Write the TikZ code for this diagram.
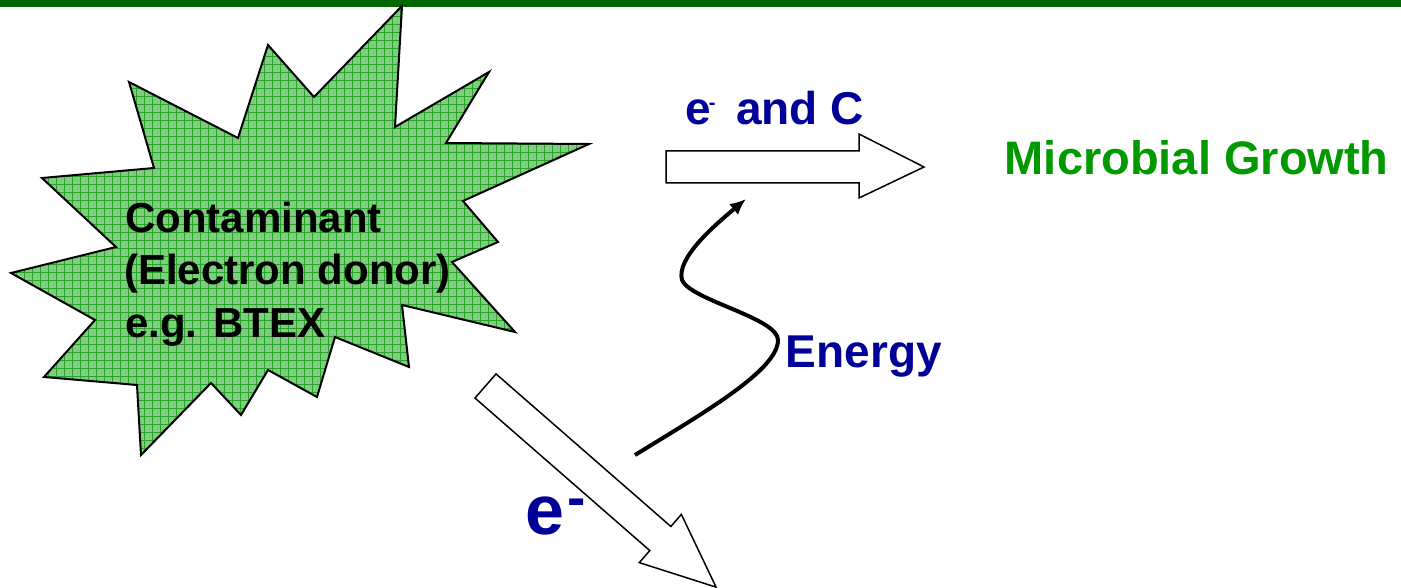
\documentclass[tikz,border=0pt]{standalone}
\usepackage{fontspec}
\setmainfont{Liberation Sans}
\usetikzlibrary{arrows.meta}
\definecolor{bargreen}{RGB}{0,102,0}
\definecolor{txtblue}{RGB}{0,0,153}
\definecolor{txtgreen}{RGB}{0,153,0}
\definecolor{burstfill}{RGB}{128,204,128}
\definecolor{burstgrid}{RGB}{40,165,40}
\newcommand\burstpath{(402,6) -- (395,127) -- (489,72) -- (446,143) -- (589,144)
  -- (463,201) -- (498,242) -- (452,262) -- (515,332) -- (402,305) -- (409,367)
  -- (335,337) -- (317,397) -- (268,370) -- (241,415) -- (211,383) -- (141,455)
  -- (137,385) -- (44,377) -- (95,320) -- (11,273) -- (116,247) -- (42,178)
  -- (154,168) -- (129,82) -- (238,138) -- (268,45) -- (314,97) -- cycle}
\tikzset{
  blockarrow/.style={draw=black,line width=1.5pt,fill=white,line join=miter},
  lbl/.style={anchor=base west,inner sep=0pt,font=\bfseries}
}
\begin{document}
\begin{tikzpicture}[x=1pt,y=-1pt]
  \useasboundingbox (0,0) rectangle (1401,588);
  \fill[bargreen] (0,0) rectangle (1401,7);
  \begin{scope}
    \clip \burstpath;
    \fill[burstfill] (0,0) rectangle (600,470);
    \draw[burstgrid,line width=0.8pt] (0,0) grid[step=8pt] (600,470);
  \end{scope}
  \draw[line width=2pt,line join=miter] \burstpath;
  \node[lbl,font=\bfseries\fontsize{42}{50}\selectfont] (donor1) at (125,233) {Contaminant};
  \node[lbl,font=\bfseries\fontsize{42}{50}\selectfont] (donor2) at (124,285) {(Electron donor)};
  \node[lbl,font=\bfseries\fontsize{42}{50}\selectfont] (donor3) at (125,337) {e.g. BTEX};
  \draw[blockarrow] (666,151) -- (859,151) -- (859,134) -- (924,167) -- (859,198)
    -- (859,183) -- (666,183) -- cycle;
  \draw[blockarrow,shift={(485.5,386)},rotate=-41.1] (0,-16) -- (232,-16) -- (232,-32)
    -- (306,0) -- (232,32) -- (232,16) -- (0,16) -- cycle;
  \node[lbl,txtblue,font=\bfseries\fontsize{46}{50}\selectfont] (eandc) at (685,125)
    {e\kern-2pt\raisebox{15.4pt}{\fontsize{20}{20}\selectfont -}\kern8pt\ and C};
  \node[lbl,txtgreen,font=\bfseries\fontsize{47}{50}\selectfont] (growth) at (1004.6,175) {Microbial Growth};
  \node[lbl,txtblue,font=\bfseries\fontsize{46}{50}\selectfont] (energy) at (785.6,367) {Energy};
  \node[lbl,txtblue,font=\bfseries\fontsize{70}{70}\selectfont] (elec) at (525,534)
    {e\kern3pt\raisebox{17.6pt}{\fontsize{55}{55}\selectfont -}};
  \coordinate (estart) at (635,455);
  \coordinate (eend) at (746,199);
  \draw[line width=4pt,-{Latex[length=16pt,width=14pt]}] (estart)
    .. controls (705,412) and (778,370) .. (778,340)
    .. controls (778,318) and (690,300) .. (682,280)
    .. controls (676,258) and (715,225) .. (eend);
\end{tikzpicture}
\end{document}
